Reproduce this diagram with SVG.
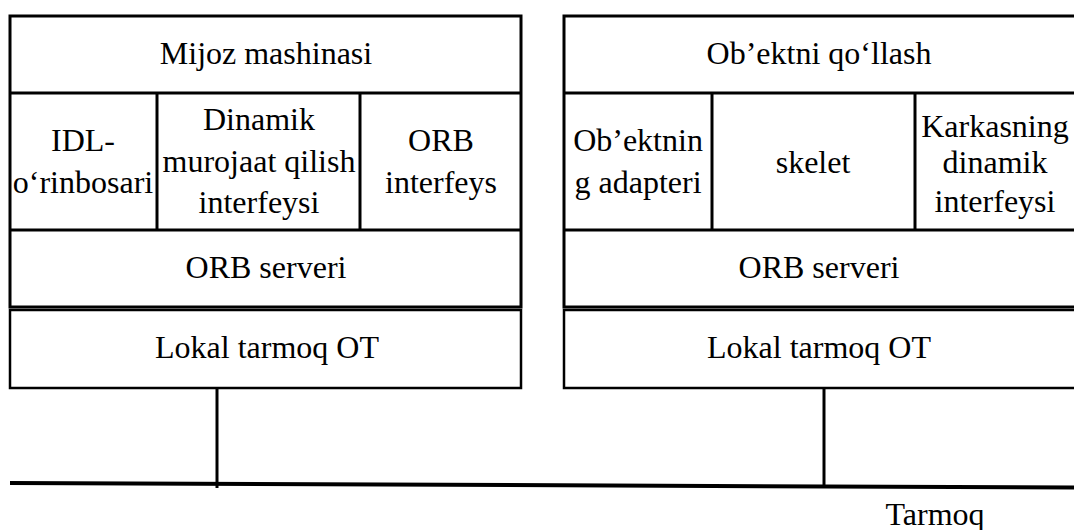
<svg xmlns="http://www.w3.org/2000/svg" width="1074" height="530" viewBox="0 0 1074 530">
<style>
.b{fill:#fff;stroke:#000;stroke-width:3}
.l{fill:none;stroke:#000;stroke-width:3}
text{font-family:'Liberation Serif','Times New Roman','DejaVu Serif',serif;font-size:32px;fill:#000;text-anchor:middle}
</style>
<rect width="1074" height="530" fill="#fff"/>
<g id="client" font-family="Liberation Serif, DejaVu Serif, serif">
  <rect class="b" x="10" y="16" width="511" height="291"/>
  <line class="l" x1="10" y1="93" x2="521" y2="93"/>
  <line class="l" x1="10" y1="230" x2="521" y2="230"/>
  <line class="l" x1="157" y1="93" x2="157" y2="230"/>
  <line class="l" x1="360" y1="93" x2="360" y2="230"/>
  <text x="266" y="64">Mijoz mashinasi</text>
  <text x="83" y="151">IDL-</text>
  <text x="83" y="193">o‘rinbosari</text>
  <text x="259" y="130">Dinamik</text>
  <text x="259" y="172">murojaat qilish</text>
  <text x="259" y="213">interfeysi</text>
  <text x="441" y="151">ORB</text>
  <text x="441" y="193">interfeys</text>
  <text x="266" y="278">ORB serveri</text>
</g>
<g id="client-os">
  <rect class="b" x="10" y="310" width="511" height="78" style="stroke-width:2.5"/>
  <text x="267" y="358">Lokal tarmoq OT</text>
</g>
<g id="server">
  <rect class="b" x="564" y="16" width="513" height="291"/>
  <line class="l" x1="564" y1="93" x2="1077" y2="93"/>
  <line class="l" x1="564" y1="230" x2="1077" y2="230"/>
  <line class="l" x1="712" y1="93" x2="712" y2="230"/>
  <line class="l" x1="915" y1="93" x2="915" y2="230"/>
  <text x="819" y="64">Ob’ektni qo‘llash</text>
  <text x="638" y="151">Ob’ektnin</text>
  <text x="638" y="193">g adapteri</text>
  <text x="813" y="173">skelet</text>
  <text x="995" y="137">Karkasning</text>
  <text x="995" y="173">dinamik</text>
  <text x="995" y="212">interfeysi</text>
  <text x="819" y="278">ORB serveri</text>
</g>
<g id="server-os">
  <rect class="b" x="564" y="310" width="513" height="78" style="stroke-width:2.5"/>
  <text x="819" y="358">Lokal tarmoq OT</text>
</g>
<g id="connectors">
  <line class="l" x1="217" y1="388" x2="217" y2="488"/>
  <line class="l" x1="824" y1="388" x2="824" y2="487"/>
  <line x1="10" y1="483" x2="1074" y2="487.5" stroke="#000" stroke-width="4"/>
</g>
<g id="network">
  <text x="935" y="525">Tarmoq</text>
</g>
</svg>
